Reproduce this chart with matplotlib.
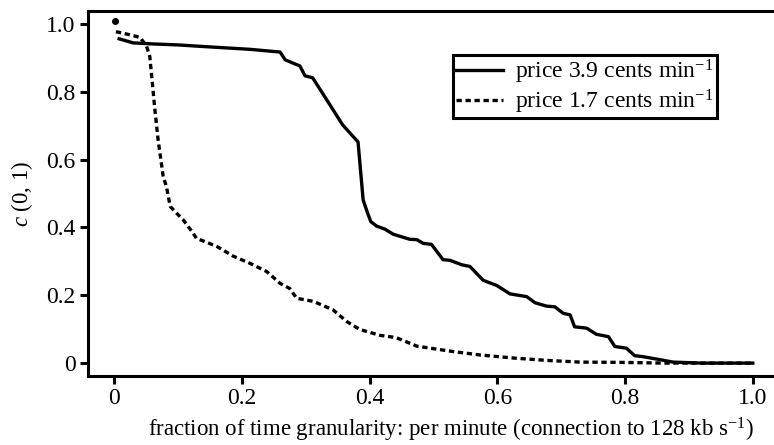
import matplotlib.pyplot as plt

plt.rcParams['font.family'] = 'Liberation Serif'
plt.rcParams['mathtext.fontset'] = 'custom'
plt.rcParams['mathtext.rm'] = 'Liberation Serif'
plt.rcParams['mathtext.it'] = 'Liberation Serif:italic'

# price 3.9 cents/min
x_high = [0.008, 0.03, 0.06, 0.10, 0.142, 0.213, 0.26, 0.268, 0.291, 0.299, 0.311,
          0.33, 0.358, 0.382, 0.39, 0.397, 0.402, 0.411, 0.424, 0.437, 0.463, 0.474,
          0.484, 0.497, 0.515, 0.526, 0.544, 0.557, 0.578, 0.599, 0.62, 0.646,
          0.659, 0.677, 0.69, 0.703, 0.714, 0.721, 0.74, 0.755, 0.774, 0.784,
          0.802, 0.815, 0.828, 0.849, 0.875, 0.92, 1.0]
c_high = [0.956, 0.944, 0.941, 0.938, 0.933, 0.925, 0.917, 0.894, 0.876, 0.847, 0.841,
          0.785, 0.702, 0.652, 0.481, 0.442, 0.417, 0.404, 0.395, 0.38, 0.365, 0.364,
          0.353, 0.35, 0.305, 0.303, 0.29, 0.285, 0.244, 0.229, 0.204, 0.196,
          0.178, 0.168, 0.166, 0.147, 0.142, 0.107, 0.103, 0.085, 0.078, 0.049,
          0.044, 0.022, 0.019, 0.012, 0.003, 0.0, 0.0]

# price 1.7 cents/min
x_low = [0.003, 0.02, 0.041, 0.051, 0.056, 0.06, 0.064, 0.069, 0.077, 0.082, 0.088,
         0.098, 0.108, 0.122, 0.129, 0.161, 0.187, 0.213, 0.239, 0.26, 0.275, 0.286,
         0.312, 0.343, 0.364, 0.385, 0.416, 0.442, 0.474, 0.495, 0.531, 0.573,
         0.625, 0.677, 0.729, 0.8, 0.86, 1.0]
c_low = [0.977, 0.97, 0.96, 0.934, 0.904, 0.826, 0.747, 0.659, 0.55, 0.521, 0.462,
         0.442, 0.423, 0.388, 0.368, 0.344, 0.315, 0.294, 0.27, 0.235, 0.22, 0.191,
         0.182, 0.157, 0.123, 0.099, 0.082, 0.075, 0.05, 0.044, 0.034, 0.024,
         0.015, 0.008, 0.003, 0.002, 0.0, 0.0]

start_x = [0.002]
start_c = [1.009]

xticks = [0, 0.2, 0.4, 0.6, 0.8, 1.0]
xtick_labels = ['0', '0.2', '0.4', '0.6', '0.8', '1.0']
yticks = [0, 0.2, 0.4, 0.6, 0.8, 1.0]
ytick_labels = ['0', '0.2', '0.4', '0.6', '0.8', '1.0']

fig = plt.figure(figsize=(7.74, 4.45), dpi=100)
ax = fig.add_axes([88 / 774, 1 - 376 / 445, (772 - 88) / 774, (376 - 11) / 445])

ax.plot(x_high, c_high, color='black', lw=2.4, label='price 3.9 cents min$^{-1}$')
ax.plot(x_low, c_low, color='black', lw=2.4, ls=(0, (1.6, 1.1)),
        label='price 1.7 cents min$^{-1}$')
ax.plot(start_x, start_c, 'o', color='black', ms=4)

ax.set_xlim(-0.0407, 1.030)
ax.set_ylim(-0.038, 1.038)
ax.set_xticks(xticks, xtick_labels)
ax.set_yticks(yticks, ytick_labels)

for side in ['top', 'left', 'bottom']:
    ax.spines[side].set_linewidth(2.2)
ax.spines['right'].set_visible(False)
ax.tick_params(direction='out', length=6, width=2.2, labelsize=17, pad=3)

ax.set_xlabel('fraction of time granularity: per minute (connection to 128 kb s$^{-1}$)',
              fontsize=16.5, labelpad=2)
ax.xaxis.set_label_coords(0.53, -0.11)
ax.set_ylabel('$c$ (0, 1)', fontsize=16.5, labelpad=8)

leg = ax.legend(loc='upper left', bbox_to_anchor=(0.534, 0.879), fontsize=17,
                frameon=True, fancybox=False, edgecolor='black', framealpha=1,
                handlelength=2.0, handletextpad=0.5, borderpad=0.12,
                labelspacing=0.05, borderaxespad=0)
leg.get_frame().set_linewidth(2.2)

fig.savefig('out.png', dpi=100)
